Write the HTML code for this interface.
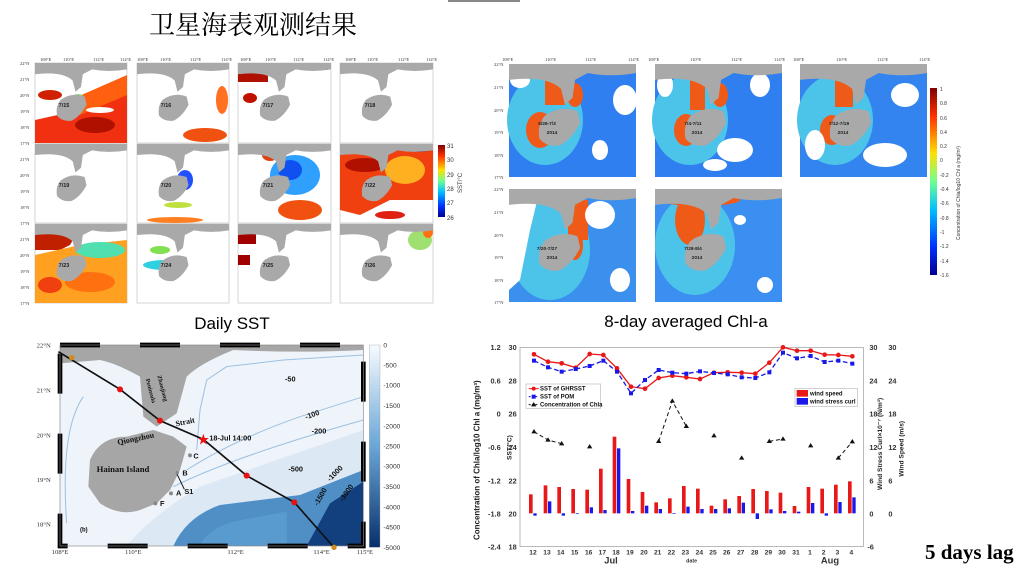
<!DOCTYPE html>
<html><head><meta charset="utf-8"><style>
html,body{margin:0;padding:0;background:#fff;}
svg{display:block;font-family:"Liberation Sans","Noto Sans CJK SC",sans-serif;}
</style></head><body>
<svg width="1024" height="576" viewBox="0 0 1024 576" xmlns="http://www.w3.org/2000/svg">
<defs>
<symbol id="land" viewBox="0 0 100 100" preserveAspectRatio="none">
<path d="M0,0 H100 V8 Q80,12 62,8 L52,14 L50,30 L44,36 L41,22 Q30,10 0,14 Z" fill="#a9a9a9"/>
<path d="M28,46 Q40,36 54,42 L56,52 Q50,66 40,72 Q30,74 24,66 Q22,54 28,46 Z" fill="#a9a9a9"/>
</symbol>
<linearGradient id="jet" x1="0" y1="1" x2="0" y2="0">
<stop offset="0" stop-color="#00008f"/><stop offset="0.15" stop-color="#0030ff"/><stop offset="0.35" stop-color="#00c0ff"/><stop offset="0.5" stop-color="#70ff90"/><stop offset="0.65" stop-color="#ffe000"/><stop offset="0.85" stop-color="#ff3000"/><stop offset="1" stop-color="#800000"/>
</linearGradient>
<linearGradient id="blu" x1="0" y1="0" x2="0" y2="1">
<stop offset="0" stop-color="#f7fbff"/><stop offset="0.5" stop-color="#6aa6d6"/><stop offset="1" stop-color="#08306b"/>
</linearGradient>
</defs>

<rect x="448" y="0" width="72" height="2" fill="#888"/>
<text x="253" y="34" font-size="26" text-anchor="middle" font-family="'Noto Serif CJK SC','Noto Sans CJK SC',serif">卫星海表观测结果</text>

<!-- Daily SST panels -->
<g font-family="'Liberation Serif',serif" font-size="4.5" fill="#333">
<text x="40" y="61">108°E</text><text x="63" y="61">110°E</text><text x="93" y="61">112°E</text><text x="120" y="61">114°E</text>
<text x="137" y="61">108°E</text><text x="160" y="61">110°E</text><text x="190" y="61">112°E</text><text x="221" y="61">114°E</text>
<text x="240" y="61">108°E</text><text x="265" y="61">110°E</text><text x="293" y="61">112°E</text><text x="323" y="61">114°E</text>
<text x="345" y="61">108°E</text><text x="367" y="61">110°E</text><text x="398" y="61">112°E</text><text x="426" y="61">114°E</text>
<text x="20" y="65">22°N</text><text x="20" y="81">21°N</text><text x="20" y="97">20°N</text><text x="20" y="113">19°N</text><text x="20" y="129">18°N</text><text x="20" y="145">17°N</text>
<text x="20" y="161">21°N</text><text x="20" y="177">20°N</text><text x="20" y="193">19°N</text><text x="20" y="209">18°N</text><text x="20" y="225">17°N</text>
<text x="20" y="241">21°N</text><text x="20" y="257">20°N</text><text x="20" y="273">19°N</text><text x="20" y="289">18°N</text><text x="20" y="305">17°N</text>
</g>
<g stroke="#bbb" stroke-width="0.6" fill="#fff">
<rect x="35" y="63" width="92" height="80"/><rect x="137" y="63" width="92" height="80"/><rect x="238" y="63" width="93" height="80"/><rect x="340" y="63" width="93" height="80"/>
<rect x="35" y="144" width="92" height="79"/><rect x="137" y="144" width="92" height="79"/><rect x="238" y="144" width="93" height="79"/><rect x="340" y="144" width="93" height="79"/>
<rect x="35" y="224" width="92" height="79"/><rect x="137" y="224" width="92" height="79"/><rect x="238" y="224" width="93" height="79"/><rect x="340" y="224" width="93" height="79"/>
</g>
<!-- color patches -->
<g>
<path d="M35,120 L80,110 L127,85 V143 H35 Z" fill="#f03010"/><path d="M70,100 L127,75 V95 L80,115 Z" fill="#ff6010"/><ellipse cx="95" cy="125" rx="20" ry="8" fill="#b01000"/><ellipse cx="50" cy="95" rx="12" ry="5" fill="#d02000"/><ellipse cx="78" cy="98" rx="6" ry="4" fill="#80e070"/><ellipse cx="100" cy="110" rx="14" ry="3" fill="#fff"/>
<ellipse cx="205" cy="135" rx="22" ry="7" fill="#f05010"/><ellipse cx="222" cy="100" rx="6" ry="14" fill="#ff7020"/>
<rect x="238" y="67" width="30" height="15" fill="#b01000"/><ellipse cx="250" cy="98" rx="7" ry="5" fill="#c01000"/><rect x="300" y="65" width="28" height="5" fill="#e03010"/>
<ellipse cx="345" cy="222" rx="0" ry="0"/>
<ellipse cx="185" cy="180" rx="8" ry="10" fill="#2050ff"/><ellipse cx="178" cy="205" rx="14" ry="3" fill="#c0e040"/><ellipse cx="175" cy="220" rx="28" ry="3" fill="#ff8020"/>
<ellipse cx="295" cy="175" rx="25" ry="20" fill="#30a0ff"/><ellipse cx="290" cy="170" rx="12" ry="10" fill="#1050f0"/><ellipse cx="300" cy="210" rx="22" ry="10" fill="#f05010"/><ellipse cx="270" cy="155" rx="8" ry="6" fill="#e04010"/>
<path d="M340,150 L433,144 V200 L390,200 L360,215 L340,210 Z" fill="#f04010"/><ellipse cx="405" cy="170" rx="20" ry="14" fill="#ffb020"/><ellipse cx="365" cy="165" rx="20" ry="7" fill="#b01000"/><ellipse cx="420" cy="148" rx="13" ry="4" fill="#a00000"/><ellipse cx="390" cy="215" rx="15" ry="4" fill="#e02010"/>
<path d="M35,228 H80 L70,245 L60,250 L35,250 Z" fill="#c02000"/><path d="M35,255 L80,245 L127,240 V303 H35 Z" fill="#ffa020"/><ellipse cx="100" cy="250" rx="25" ry="8" fill="#50e0b0"/><ellipse cx="90" cy="282" rx="25" ry="10" fill="#ff7010"/><ellipse cx="50" cy="285" rx="12" ry="8" fill="#f04010"/>
<ellipse cx="165" cy="265" rx="22" ry="5" fill="#30d0e0"/><ellipse cx="160" cy="250" rx="10" ry="4" fill="#80e050"/>
<rect x="238" y="230" width="18" height="14" fill="#a00000"/><rect x="238" y="255" width="12" height="10" fill="#a00000"/>
<ellipse cx="420" cy="240" rx="12" ry="10" fill="#a0e070"/><ellipse cx="428" cy="232" rx="5" ry="6" fill="#ff7010"/>
</g>
<g>
<use href="#land" x="35" y="63" width="92" height="80"/><use href="#land" x="137" y="63" width="92" height="80"/><use href="#land" x="238" y="63" width="93" height="80"/><use href="#land" x="340" y="63" width="93" height="80"/>
<use href="#land" x="35" y="144" width="92" height="79"/><use href="#land" x="137" y="144" width="92" height="79"/><use href="#land" x="238" y="144" width="93" height="79"/><use href="#land" x="340" y="144" width="93" height="79"/>
<use href="#land" x="35" y="224" width="92" height="79"/><use href="#land" x="137" y="224" width="92" height="79"/><use href="#land" x="238" y="224" width="93" height="79"/><use href="#land" x="340" y="224" width="93" height="79"/>
</g>
<g font-size="5.5" font-weight="bold" text-anchor="middle" fill="#222">
<text x="64" y="107">7/15</text><text x="166" y="107">7/16</text><text x="268" y="107">7/17</text><text x="370" y="107">7/18</text>
<text x="64" y="187">7/19</text><text x="166" y="187">7/20</text><text x="268" y="187">7/21</text><text x="370" y="187">7/22</text>
<text x="64" y="267">7/23</text><text x="166" y="267">7/24</text><text x="268" y="267">7/25</text><text x="370" y="267">7/26</text>
</g>
<rect x="438" y="145" width="7" height="72" fill="url(#jet)"/>
<g font-size="6" fill="#333"><text x="447" y="148">31</text><text x="447" y="162">30</text><text x="447" y="177">29</text><text x="447" y="191">28</text><text x="447" y="205">27</text><text x="447" y="220">26</text>
<text transform="translate(462,193) rotate(-90)">SST/°C</text></g>
<text x="232" y="329" font-size="17" text-anchor="middle">Daily SST</text>

<!-- Chl panels -->
<g font-family="'Liberation Serif',serif" font-size="4.5" fill="#333">
<text x="502" y="61">108°E</text><text x="545" y="61">110°E</text><text x="585" y="61">112°E</text><text x="628" y="61">114°E</text>
<text x="648" y="61">108°E</text><text x="690" y="61">110°E</text><text x="731" y="61">112°E</text><text x="774" y="61">114°E</text>
<text x="793" y="61">108°E</text><text x="836" y="61">110°E</text><text x="877" y="61">112°E</text><text x="919" y="61">114°E</text>
<text x="494" y="66">22°N</text><text x="494" y="89">21°N</text><text x="494" y="112">20°N</text><text x="494" y="134">19°N</text><text x="494" y="157">18°N</text><text x="494" y="179">17°N</text>
<text x="494" y="191">22°N</text><text x="494" y="214">21°N</text><text x="494" y="237">20°N</text><text x="494" y="259">19°N</text><text x="494" y="282">18°N</text><text x="494" y="304">17°N</text>
</g>
<g>
<rect x="509" y="64" width="127" height="113" fill="#2f7ff0"/><rect x="655" y="64" width="127" height="113" fill="#2f7ff0"/><rect x="800" y="64" width="127" height="113" fill="#3384ee"/>
<rect x="509" y="189" width="127" height="113" fill="#3a90ec"/><rect x="655" y="189" width="127" height="113" fill="#3a8ff0"/>
<g fill="#4cc4ea">
<ellipse cx="545" cy="120" rx="38" ry="45"/><ellipse cx="690" cy="120" rx="38" ry="45"/><ellipse cx="835" cy="120" rx="38" ry="45"/><ellipse cx="550" cy="250" rx="40" ry="50"/><ellipse cx="695" cy="245" rx="40" ry="50"/>
</g>
<g fill="#f05a18">
<rect x="545" y="75" width="20" height="30"/><ellipse cx="540" cy="130" rx="14" ry="18"/><ellipse cx="575" cy="95" rx="8" ry="12"/>
<rect x="690" y="80" width="15" height="30"/><ellipse cx="686" cy="130" rx="12" ry="16"/><ellipse cx="720" cy="95" rx="8" ry="12"/>
<rect x="835" y="72" width="18" height="35"/><ellipse cx="832" cy="130" rx="12" ry="15"/>
<rect x="568" y="200" width="20" height="40"/><ellipse cx="575" cy="245" rx="8" ry="15"/>
<ellipse cx="690" cy="220" rx="15" ry="25"/><ellipse cx="700" cy="200" rx="40" ry="6"/>
</g>
<g fill="#fff">
<ellipse cx="625" cy="100" rx="12" ry="15"/><ellipse cx="600" cy="150" rx="8" ry="10"/><ellipse cx="520" cy="80" rx="10" ry="8"/>
<ellipse cx="735" cy="150" rx="18" ry="12"/><ellipse cx="760" cy="85" rx="10" ry="12"/><ellipse cx="665" cy="85" rx="8" ry="12"/><ellipse cx="715" cy="165" rx="12" ry="6"/>
<ellipse cx="885" cy="155" rx="22" ry="12"/><ellipse cx="905" cy="95" rx="14" ry="12"/><ellipse cx="815" cy="145" rx="10" ry="15"/><ellipse cx="860" cy="120" rx="8" ry="8"/>
<path d="M509,189 H540 L530,230 L520,280 L509,290 Z"/><ellipse cx="600" cy="215" rx="15" ry="14"/><ellipse cx="620" cy="280" rx="10" ry="12"/>
<ellipse cx="740" cy="220" rx="6" ry="5"/><ellipse cx="765" cy="285" rx="8" ry="8"/>
</g>
<use href="#land" x="509" y="64" width="127" height="113"/><use href="#land" x="655" y="64" width="127" height="113"/><use href="#land" x="800" y="64" width="127" height="113"/>
<use href="#land" x="509" y="189" width="127" height="113"/><use href="#land" x="655" y="189" width="127" height="113"/>
</g>
<g font-size="4.8" font-weight="bold" text-anchor="middle" fill="#222">
<text x="547" y="125">6/26-7/3</text><text x="552" y="134">2014</text>
<text x="693" y="125">7/4-7/11</text><text x="697" y="134">2014</text>
<text x="839" y="125">7/12-7/19</text><text x="843" y="134">2014</text>
<text x="547" y="250">7/20-7/27</text><text x="552" y="259">2014</text>
<text x="693" y="250">7/28-8/4</text><text x="697" y="259">2014</text>
</g>
<rect x="930" y="88" width="7" height="187" fill="url(#jet)"/>
<g font-size="5" fill="#333"><text x="940" y="91">1</text><text x="940" y="105">0.8</text><text x="940" y="120">0.6</text><text x="940" y="134">0.4</text><text x="940" y="148">0.2</text><text x="940" y="162">0</text><text x="940" y="177">-0.2</text><text x="940" y="191">-0.4</text><text x="940" y="205">-0.6</text><text x="940" y="220">-0.8</text><text x="940" y="234">-1</text><text x="940" y="248">-1.2</text><text x="940" y="263">-1.4</text><text x="940" y="277">-1.6</text>
<text transform="translate(960,240) rotate(-90)">Concentration of Chla/log10 Chl a (mg/m³)</text></g>
<text x="686" y="327" font-size="17" text-anchor="middle">8-day averaged Chl-a</text>

<!-- Bathymetry map -->
<g transform="translate(0,330) scale(0.33333)">
<rect x="180" y="45" width="910" height="603" fill="#eef4fa"/>
<path d="M380,648 Q450,560 600,470 L1090,300 V648 Z" fill="#dce8f4"/>
<path d="M520,648 Q560,560 660,525 L900,495 L1090,420 V648 Z" fill="#4f8fc6"/>
<path d="M600,648 Q620,600 700,575 L860,545 L860,648 Z" fill="#5a9bcf"/>
<path d="M920,648 L990,520 L1090,455 V648 Z" fill="#123f7e"/>
<g fill="none" stroke="#9cc0e0" stroke-width="3">
<path d="M590,360 L600,240 L620,150 L680,110 L850,90 L1090,75"/>
<path d="M560,420 Q700,330 900,260 L1090,200"/>
<path d="M520,470 Q700,380 1090,270"/>
<path d="M200,580 Q180,300 250,200"/>
</g>
<path d="M180,45 H1090 V60 Q900,70 700,60 Q600,100 560,140 L530,250 L500,270 L470,290 L430,260 L420,140 Q350,100 300,90 L180,100 Z" fill="#a6a6a6"/>
<path d="M270,390 Q300,320 380,320 L460,300 L520,320 L560,350 L540,420 L510,480 L470,520 L420,540 Q360,560 300,520 L265,470 Z" fill="#a6a6a6"/>
<rect x="180" y="45" width="910" height="603" fill="none" stroke="#000" stroke-width="14" stroke-dasharray="120,120"/>
<rect x="180" y="45" width="910" height="603" fill="none" stroke="#888" stroke-width="2"/>
<polyline points="175,65 360,178 480,272 610,328 740,437 883,517 1000,650" fill="none" stroke="#111" stroke-width="5"/>
<g fill="#e81010"><circle cx="360" cy="178" r="9"/><circle cx="480" cy="272" r="9"/><circle cx="740" cy="437" r="9"/><circle cx="883" cy="517" r="9"/></g>
<text x="610" y="340" font-size="36" fill="#e81010" text-anchor="middle">★</text>
<circle cx="215" cy="83" r="8" fill="#d08a20"/><circle cx="1002" cy="652" r="8" fill="#d08a20"/>
<g font-family="'Liberation Serif',serif" font-size="20" fill="#333">
<text x="110" y="52">22°N</text><text x="110" y="188">21°N</text><text x="110" y="322">20°N</text><text x="110" y="456">19°N</text><text x="110" y="590">18°N</text>
<text x="155" y="672">108°E</text><text x="375" y="672">110°E</text><text x="682" y="672">112°E</text><text x="940" y="672">114°E</text><text x="1070" y="672">115°E</text>
</g>
<g font-size="22" font-weight="bold" fill="#111">
<text x="855" y="155">-50</text><text x="915" y="262" transform="rotate(-20,935,255)">-100</text><text x="935" y="310">-200</text><text x="865" y="425">-500</text>
<text x="965" y="445" transform="rotate(-45,990,420)">-1000</text><text x="920" y="530" transform="rotate(-60,935,500)">-1500</text><text x="1000" y="510" transform="rotate(-55,1020,485)">-3000</text>
<text x="628" y="332">18-Jul 14:00</text><text x="580" y="385">C</text><text x="547" y="437">B</text><text x="528" y="497">A</text><text x="553" y="492">S1</text><text x="480" y="528">F</text><text x="240" y="605" font-size="18">(b)</text>
</g>
<g font-family="'Liberation Serif',serif" font-weight="bold" fill="#111">
<text x="290" y="426" font-size="26">Hainan Island</text>
<text x="350" y="335" font-size="24" transform="rotate(-12,400,320)">Qiongzhou</text>
<text x="525" y="282" font-size="24" transform="rotate(-12,560,270)">Strait</text>
<text x="455" y="140" font-size="18" transform="rotate(75,465,150)">Zhanjiang</text>
<text x="420" y="150" font-size="18" transform="rotate(75,430,160)">Peninsula</text>
</g>
<line x1="530" y1="430" x2="553" y2="478" stroke="#111" stroke-width="3"/>
<g fill="#888"><circle cx="570" cy="376" r="6"/><circle cx="532" cy="428" r="5"/><circle cx="513" cy="490" r="6"/><circle cx="466" cy="520" r="6"/></g>
<rect x="1108" y="45" width="32" height="607" fill="url(#blu)" stroke="#999"/>
<g font-size="20" fill="#333">
<text x="1150" y="52">0</text><text x="1150" y="112">-500</text><text x="1150" y="173">-1000</text><text x="1150" y="234">-1500</text><text x="1150" y="295">-2000</text><text x="1150" y="356">-2500</text><text x="1150" y="416">-3000</text><text x="1150" y="477">-3500</text><text x="1150" y="538">-4000</text><text x="1150" y="599">-4500</text><text x="1150" y="660">-5000</text>
</g>
</g>

<!-- Time series chart -->
<g transform="translate(470,340) scale(0.33333)">
<rect x="150" y="22" width="1030" height="598" fill="none" stroke="#999" stroke-width="2"/>
<g font-size="22" font-weight="bold" fill="#333" text-anchor="end">
<text x="92" y="30">1.2</text><text x="92" y="130">0.6</text><text x="92" y="230">0</text><text x="92" y="330">-0.6</text><text x="92" y="430">-1.2</text><text x="92" y="530">-1.8</text><text x="92" y="628">-2.4</text>
<text x="140" y="30">30</text><text x="140" y="130">28</text><text x="140" y="230">26</text><text x="140" y="330">24</text><text x="140" y="430">22</text><text x="140" y="530">20</text><text x="140" y="628">18</text>
</g>
<g font-size="22" font-weight="bold" fill="#333">
<text x="1198" y="30">30</text><text x="1198" y="130">24</text><text x="1198" y="230">18</text><text x="1198" y="330">12</text><text x="1198" y="430">6</text><text x="1198" y="530">0</text><text x="1192" y="628">-6</text>
<text x="1255" y="30">30</text><text x="1255" y="130">24</text><text x="1255" y="230">18</text><text x="1255" y="330">12</text><text x="1255" y="430">6</text><text x="1255" y="530">0</text>
</g>
<g font-size="24" font-weight="bold" fill="#222">
<text transform="translate(28,600) rotate(-90)">Concentration of Chla/log10 Chl a (mg/m³)</text>
<text transform="translate(124,360) rotate(-90)" font-size="20">SST(°C)</text>
<text transform="translate(1236,450) rotate(-90)" font-size="20">Wind Stress Curl×10⁻⁷ (N/m³)</text>
<text transform="translate(1300,410) rotate(-90)" font-size="20">Wind Speed (m/s)</text>
</g>
<!-- bars -->
<g id="bars"></g>
<g fill="#e81818">
<rect x="177" y="463" width="11" height="57"/><rect x="221" y="436" width="11" height="84"/><rect x="262" y="441" width="11" height="79"/><rect x="304" y="447" width="11" height="73"/><rect x="346" y="449" width="11" height="71"/><rect x="387" y="386" width="11" height="134"/><rect x="428" y="290" width="11" height="230"/><rect x="470" y="417" width="11" height="103"/><rect x="512" y="456" width="11" height="64"/><rect x="553" y="487" width="11" height="33"/><rect x="594" y="475" width="11" height="45"/><rect x="636" y="438" width="11" height="82"/><rect x="678" y="446" width="11" height="74"/><rect x="719" y="497" width="11" height="23"/><rect x="760" y="478" width="11" height="42"/><rect x="802" y="468" width="11" height="52"/><rect x="844" y="447" width="11" height="73"/><rect x="885" y="453" width="11" height="67"/><rect x="926" y="458" width="11" height="62"/><rect x="968" y="498" width="11" height="22"/><rect x="1010" y="441" width="11" height="79"/><rect x="1051" y="446" width="11" height="74"/><rect x="1092" y="434" width="11" height="86"/><rect x="1134" y="424" width="11" height="96"/>
</g>
<g fill="#1818e8">
<rect x="190" y="520" width="10" height="7"/><rect x="234" y="484" width="10" height="36"/><rect x="275" y="520" width="10" height="7"/><rect x="317" y="519" width="10" height="2"/><rect x="359" y="502" width="10" height="18"/><rect x="400" y="510" width="10" height="10"/><rect x="441" y="325" width="10" height="195"/><rect x="483" y="513" width="10" height="7"/><rect x="525" y="497" width="10" height="23"/><rect x="566" y="507" width="10" height="13"/><rect x="607" y="520" width="10" height="2"/><rect x="649" y="500" width="10" height="20"/><rect x="691" y="507" width="10" height="13"/><rect x="732" y="507" width="10" height="13"/><rect x="773" y="505" width="10" height="15"/><rect x="815" y="488" width="10" height="32"/><rect x="857" y="520" width="10" height="17"/><rect x="898" y="508" width="10" height="12"/><rect x="939" y="513" width="10" height="7"/><rect x="981" y="515" width="10" height="5"/><rect x="1023" y="489" width="10" height="31"/><rect x="1064" y="520" width="10" height="7"/><rect x="1105" y="486" width="10" height="34"/><rect x="1147" y="472" width="10" height="48"/>
</g>
<!-- SST lines -->
<polyline fill="none" stroke="#e81818" stroke-width="4" points="192,43 234,65 275,70 317,83 359,42 400,45 441,85 483,140 525,146 566,114 607,107 649,112 690,117 732,98 773,97 815,98 856,101 898,68 939,22 981,32 1022,32 1064,44 1105,45 1147,49"/>
<g fill="#e81818"><circle cx="192" cy="43" r="7"/><circle cx="234" cy="65" r="7"/><circle cx="275" cy="70" r="7"/><circle cx="317" cy="83" r="7"/><circle cx="359" cy="42" r="7"/><circle cx="400" cy="45" r="7"/><circle cx="441" cy="85" r="7"/><circle cx="483" cy="140" r="7"/><circle cx="525" cy="146" r="7"/><circle cx="566" cy="114" r="7"/><circle cx="607" cy="107" r="7"/><circle cx="649" cy="112" r="7"/><circle cx="690" cy="117" r="7"/><circle cx="732" cy="98" r="7"/><circle cx="773" cy="97" r="7"/><circle cx="815" cy="98" r="7"/><circle cx="856" cy="101" r="7"/><circle cx="898" cy="68" r="7"/><circle cx="939" cy="22" r="7"/><circle cx="981" cy="32" r="7"/><circle cx="1022" cy="32" r="7"/><circle cx="1064" cy="44" r="7"/><circle cx="1105" cy="45" r="7"/><circle cx="1147" cy="49" r="7"/></g>
<polyline fill="none" stroke="#1818e8" stroke-width="4" stroke-dasharray="14,8" points="192,62 234,82 275,95 317,87 359,78 400,62 441,95 483,160 525,120 566,90 607,98 649,101 690,94 732,99 773,103 815,112 856,114 898,97 939,38 981,55 1022,48 1064,66 1105,62 1147,71"/>
<g fill="#1818e8"><rect x="186" y="56" width="12" height="12"/><rect x="228" y="76" width="12" height="12"/><rect x="269" y="89" width="12" height="12"/><rect x="311" y="81" width="12" height="12"/><rect x="353" y="72" width="12" height="12"/><rect x="394" y="56" width="12" height="12"/><rect x="435" y="89" width="12" height="12"/><rect x="477" y="154" width="12" height="12"/><rect x="519" y="114" width="12" height="12"/><rect x="560" y="84" width="12" height="12"/><rect x="601" y="92" width="12" height="12"/><rect x="643" y="95" width="12" height="12"/><rect x="684" y="88" width="12" height="12"/><rect x="726" y="93" width="12" height="12"/><rect x="767" y="97" width="12" height="12"/><rect x="809" y="106" width="12" height="12"/><rect x="850" y="108" width="12" height="12"/><rect x="892" y="91" width="12" height="12"/><rect x="933" y="32" width="12" height="12"/><rect x="975" y="49" width="12" height="12"/><rect x="1016" y="42" width="12" height="12"/><rect x="1058" y="60" width="12" height="12"/><rect x="1099" y="56" width="12" height="12"/><rect x="1141" y="65" width="12" height="12"/></g>
<!-- Chla -->
<g fill="none" stroke="#111" stroke-width="3" stroke-dasharray="12,8">
<polyline points="192,275 234,300 275,311"/><polyline points="566,304 607,183 649,259"/><polyline points="898,304 939,297"/><polyline points="1105,354 1147,305"/>
</g>
<g fill="#111">
<path d="M192,267 l8,13 h-16z"/><path d="M234,292 l8,13 h-16z"/><path d="M275,303 l8,13 h-16z"/><path d="M359,312 l8,13 h-16z"/><path d="M566,296 l8,13 h-16z"/><path d="M607,175 l8,13 h-16z"/><path d="M649,251 l8,13 h-16z"/><path d="M732,279 l8,13 h-16z"/><path d="M815,346 l8,13 h-16z"/><path d="M898,296 l8,13 h-16z"/><path d="M939,289 l8,13 h-16z"/><path d="M1022,309 l8,13 h-16z"/><path d="M1105,346 l8,13 h-16z"/><path d="M1147,297 l8,13 h-16z"/>
</g>
<!-- legends -->
<rect x="168" y="132" width="224" height="73" fill="#fff" stroke="#bbb" stroke-width="2"/>
<g font-size="18" font-weight="bold" fill="#111">
<line x1="176" y1="146" x2="206" y2="146" stroke="#e81818" stroke-width="3"/><circle cx="191" cy="146" r="6" fill="#e81818"/><text x="210" y="152">SST of GHRSST</text>
<line x1="176" y1="170" x2="206" y2="170" stroke="#1818e8" stroke-width="3" stroke-dasharray="6,4"/><rect x="185" y="164" width="12" height="12" fill="#1818e8"/><text x="210" y="176">SST of POM</text>
<line x1="176" y1="194" x2="206" y2="194" stroke="#111" stroke-width="3" stroke-dasharray="6,4"/><path d="M191,186 l8,13 h-16z" fill="#111"/><text x="210" y="200">Concentration of Chla</text>
</g>
<rect x="975" y="145" width="187" height="55" fill="#fff" stroke="#bbb" stroke-width="2"/>
<g font-size="18" font-weight="bold" fill="#111">
<rect x="980" y="150" width="34" height="20" fill="#e81818"/><text x="1020" y="167">wind speed</text>
<rect x="980" y="174" width="34" height="20" fill="#1818e8"/><text x="1020" y="191">wind stress curl</text>
</g>
<g font-size="20" font-weight="bold" fill="#333" text-anchor="middle">
<text x="189" y="643">12</text><text x="231" y="643">13</text><text x="272" y="643">14</text><text x="314" y="643">15</text><text x="356" y="643">16</text><text x="397" y="643">17</text><text x="438" y="643">18</text><text x="480" y="643">19</text><text x="522" y="643">20</text><text x="563" y="643">21</text><text x="604" y="643">22</text><text x="646" y="643">23</text><text x="688" y="643">24</text><text x="729" y="643">25</text><text x="770" y="643">26</text><text x="812" y="643">27</text><text x="854" y="643">28</text><text x="895" y="643">29</text><text x="936" y="643">30</text><text x="978" y="643">31</text><text x="1020" y="643">1</text><text x="1061" y="643">2</text><text x="1102" y="643">3</text><text x="1144" y="643">4</text>
<text x="423" y="670" font-size="28">Jul</text><text x="665" y="668" font-size="16">date</text><text x="1080" y="670" font-size="28">Aug</text>
</g>
</g>
<text x="925" y="559" font-size="21" font-weight="bold" font-family="'Liberation Serif',serif">5  days lag</text>
</svg>
</body></html>
